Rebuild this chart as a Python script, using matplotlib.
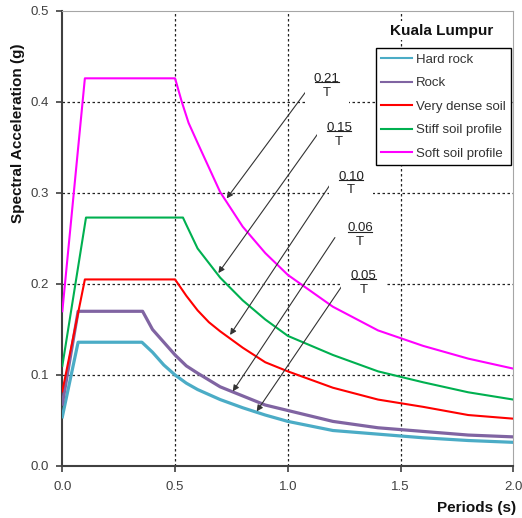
import matplotlib
matplotlib.use("Agg")
import matplotlib.pyplot as plt

plt.rcParams['font.family'] = ['Liberation Sans', 'DejaVu Sans']

# Spectra: period T (s) and spectral acceleration (g)
T_hard = [0.0, 0.07, 0.353, 0.4, 0.45, 0.5, 0.55, 0.6, 0.7, 0.8, 0.9, 1.0, 1.2, 1.4, 1.6, 1.8, 2.0]
sa_hard = [0.054, 0.136, 0.136, 0.125, 0.111, 0.100, 0.091, 0.084, 0.073, 0.064, 0.056, 0.049, 0.039, 0.035, 0.031, 0.028, 0.026]

T_rock = [0.0, 0.07, 0.356, 0.4, 0.45, 0.5, 0.55, 0.6, 0.7, 0.8, 0.9, 1.0, 1.2, 1.4, 1.6, 1.8, 2.0]
sa_rock = [0.068, 0.170, 0.170, 0.150, 0.136, 0.122, 0.110, 0.102, 0.087, 0.077, 0.067, 0.061, 0.049, 0.042, 0.038, 0.034, 0.032]

T_vdense = [0.0, 0.1, 0.5, 0.55, 0.6, 0.65, 0.7, 0.8, 0.9, 1.0, 1.2, 1.4, 1.6, 1.8, 2.0]
sa_vdense = [0.082, 0.205, 0.205, 0.187, 0.171, 0.158, 0.148, 0.130, 0.114, 0.104, 0.086, 0.073, 0.065, 0.056, 0.052]

T_stiff = [0.0, 0.105, 0.535, 0.55, 0.6, 0.7, 0.8, 0.9, 1.0, 1.2, 1.4, 1.6, 1.8, 2.0]
sa_stiff = [0.110, 0.273, 0.273, 0.265, 0.239, 0.207, 0.182, 0.161, 0.143, 0.122, 0.104, 0.092, 0.081, 0.073]

T_soft = [0.0, 0.1, 0.5, 0.53, 0.56, 0.6, 0.7, 0.8, 0.9, 1.0, 1.2, 1.4, 1.6, 1.8, 2.0]
sa_soft = [0.170, 0.426, 0.426, 0.400, 0.377, 0.355, 0.301, 0.263, 0.234, 0.210, 0.175, 0.149, 0.132, 0.118, 0.107]

series_names = ['Hard rock', 'Rock', 'Very dense soil', 'Stiff soil profile', 'Soft soil profile']

# c/T annotations: label text, fraction-bar position, arrow tail, arrow tip
coef_labels = ['0.21', '0.15', '0.10', '0.06', '0.05']
label_pos = [(1.173, 0.422), (1.227, 0.368), (1.280, 0.3145), (1.320, 0.2575), (1.335, 0.205)]
arrow_tail = [(1.091, 0.415), (1.133, 0.365), (1.190, 0.310), (1.209, 0.251), (1.249, 0.201)]
arrow_tip = [(0.729, 0.294), (0.692, 0.212), (0.744, 0.144), (0.756, 0.082), (0.862, 0.060)]

xticks = [0.0, 0.5, 1.0, 1.5, 2.0]
yticks = [0.0, 0.1, 0.2, 0.3, 0.4, 0.5]

fig = plt.figure(figsize=(5.22, 5.18), dpi=100)
ax = fig.add_axes([0.1194, 0.1004, 0.8639, 0.8784])

# dotted grid, skipping the frame edges
for y in yticks[1:-1]:
    ax.axhline(y, color='#222222', lw=0.9, ls=(0, (2, 2)), zorder=1)
for x in xticks[1:-1]:
    ax.axvline(x, color='#222222', lw=0.9, ls=(0, (2, 2)), zorder=1)

ax.plot(T_hard, sa_hard, color='#4BACC6', lw=2.3, label=series_names[0], zorder=3)
ax.plot(T_rock, sa_rock, color='#8064A2', lw=2.3, label=series_names[1], zorder=3)
ax.plot(T_vdense, sa_vdense, color='#FF0000', lw=1.5, label=series_names[2], zorder=3)
ax.plot(T_stiff, sa_stiff, color='#00B050', lw=1.5, label=series_names[3], zorder=3)
ax.plot(T_soft, sa_soft, color='#FF00FF', lw=1.5, label=series_names[4], zorder=3)

bar_half = 0.054  # half width of the fraction bar in data units
for lab, pos, tail, tip in zip(coef_labels, label_pos, arrow_tail, arrow_tip):
    ax.annotate('', xy=tip, xytext=tail,
                arrowprops=dict(arrowstyle='-|>', color='#333333', lw=0.8,
                                mutation_scale=9, shrinkA=0, shrinkB=0),
                zorder=4)
    ax.text(pos[0], pos[1] - 0.004, lab + '\nT', fontsize=9.5, ha='center', va='center',
            multialignment='center', linespacing=1.2, color='#222222', zorder=5,
            bbox=dict(boxstyle='square,pad=0.7', fc='white', ec='none'))
    ax.plot([pos[0] - bar_half, pos[0] + bar_half], [pos[1], pos[1]],
            color='#222222', lw=0.8, zorder=6)

ax.set_xlim(0, 2.0)
ax.set_ylim(0, 0.5)
ax.set_xticks(xticks)
ax.set_yticks(yticks)
ax.set_xticklabels([f'{v:.1f}' for v in xticks])
ax.set_yticklabels([f'{v:.1f}' for v in yticks])
ax.tick_params(direction='out', length=4, width=1.2, colors='#404040',
               labelsize=9.5, labelcolor='#404040')
ax.tick_params(axis='y', pad=5.5)
ax.tick_params(axis='x', pad=7)

for side in ['left', 'bottom']:
    ax.spines[side].set_color('#404040')
    ax.spines[side].set_linewidth(1.5)
for side in ['top', 'right']:
    ax.spines[side].set_color('#a6a6a6')
    ax.spines[side].set_linewidth(0.8)

leg = ax.legend(loc='upper right', bbox_to_anchor=(0.994, 0.918), borderaxespad=0,
                fancybox=False, framealpha=1, edgecolor='black', fontsize=9.5,
                handlelength=2.3, handletextpad=0.3, labelspacing=0.85, borderpad=0.4)
leg.get_frame().set_linewidth(1.0)
for t in leg.get_texts():
    t.set_color('#333333')
for h in leg.get_lines():
    h.set_linewidth(1.5)

fig.text(441.7 / 522, 1 - 30.7 / 518, 'Kuala Lumpur', ha='center', va='center',
         fontsize=11, fontweight='bold', color='#111111',
         bbox=dict(boxstyle='square,pad=0.15', fc='white', ec='none'))
fig.text(18 / 522, 1 - 133 / 518, 'Spectral Acceleration (g)', rotation=90,
         ha='center', va='center', fontsize=11, fontweight='bold', color='#111111')
fig.text(516 / 522, 1 - 508 / 518, 'Periods (s)', ha='right', va='center',
         fontsize=11, fontweight='bold', color='#111111')

fig.savefig('out.png', dpi=100)
